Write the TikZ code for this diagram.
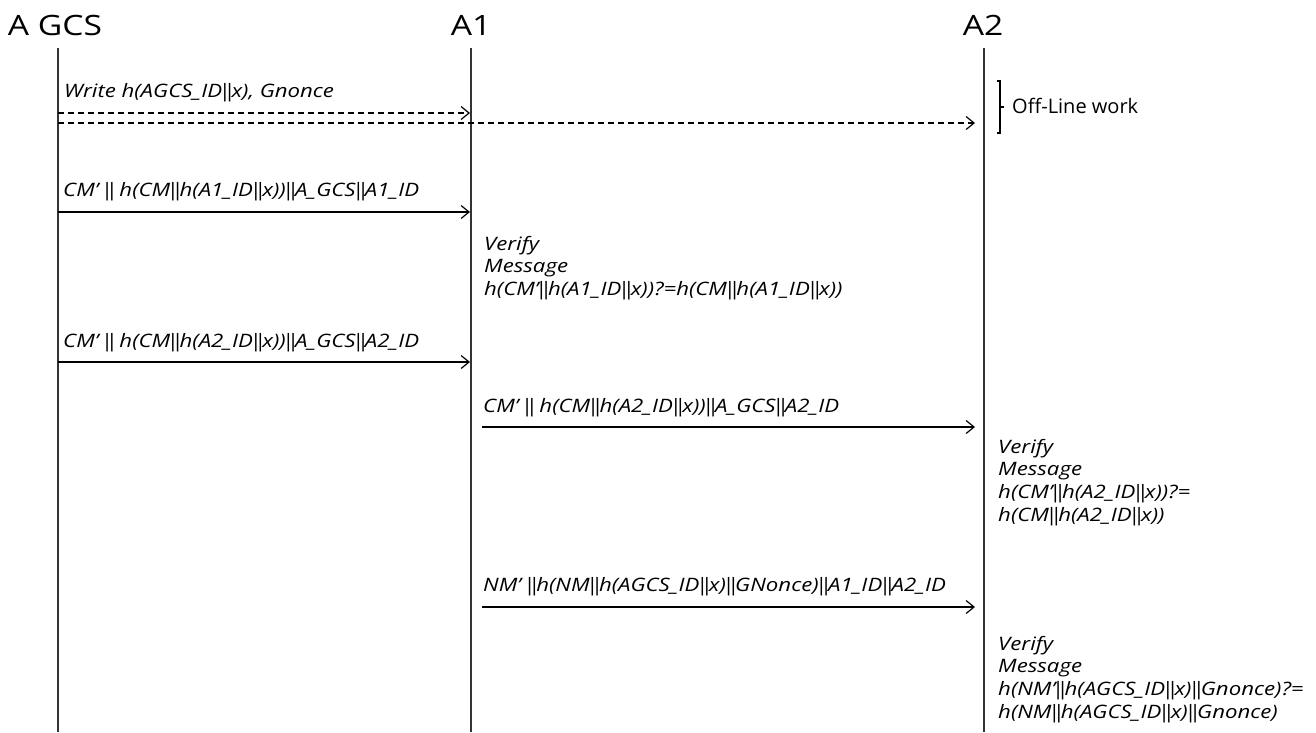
\documentclass[tikz,border=0pt]{standalone}
\usepackage{fontspec}
\setmainfont{Open Sans}
\newfontfamily\widef{Open Sans}[FakeStretch=1.2]
\usetikzlibrary{arrows.meta}
\newcommand{\pp}{\makebox[4.7pt]{|}}
\newcommand{\dd}{\pp\pp}
\begin{document}
\begin{tikzpicture}[x=1pt,y=-1pt,
  life/.style={line width=1.5pt, draw=black!80},
  msg/.style={line width=1.2pt, -{Straight Barb[length=8pt,width=13pt,line width=1.2pt]}},
  dmsg/.style={msg, dash pattern=on 6pt off 4pt},
  head/.style={font=\widef\fontsize{28}{30}\selectfont, anchor=base, inner sep=0},
  lbl/.style={font=\widef\fontsize{18.5}{22}\selectfont\itshape, anchor=base west, inner sep=0},
  vfy/.style={font=\widef\fontsize{18.5}{22.8}\selectfont\itshape, anchor=base west, inner sep=0, align=left, text width=420pt},
  note/.style={font=\fontsize{20}{24}\selectfont, anchor=base west, inner sep=0},
]
\useasboundingbox (0,0) rectangle (1316,732);
% headers
\node[head] (hG) at (55,35) {A GCS};
\node[head] (h1) at (471,35) {A1};
\node[head] (h2) at (983,35) {A2};
% lifelines
\coordinate (G0) at (58,48);  \coordinate (G1) at (58,732);
\coordinate (P0) at (471,48); \coordinate (P1) at (471,732);
\coordinate (Q0) at (984,48); \coordinate (Q1) at (984,732);
\draw[life] (G0) -- (G1);
\draw[life] (P0) -- (P1);
\draw[life] (Q0) -- (Q1);
% message 1 (dashed)
\node[lbl] (l1) at (64,97) {Write h(AGCS\_ID\dd x), Gnonce};
\coordinate (m1s) at (58,113); \coordinate (m1e) at (470,113);
\draw[dmsg] (m1s) -- (m1e);
\coordinate (m2s) at (58,123); \coordinate (m2e) at (975,123);
\draw[dmsg] (m2s) -- (m2e);
% off-line bracket
\coordinate (b1) at (997,81); \coordinate (b2) at (1000,81);
\coordinate (b3) at (1000,133); \coordinate (b4) at (997,133);
\coordinate (bt0) at (1000,107); \coordinate (bt1) at (1004,107);
\draw[line width=1.1pt] (b1) -- (b2) -- (b3) -- (b4);
\draw[line width=1.1pt] (bt0) -- (bt1);
\node[note] (off) at (1012,113) {Off-Line work};
% message 3
\node[lbl] (l3) at (63,196) {CM’ \dd\ h(CM\dd h(A1\_ID\dd x))\dd A\_GCS\dd A1\_ID};
\coordinate (m3s) at (58,212); \coordinate (m3e) at (470,212);
\draw[msg] (m3s) -- (m3e);
\node[vfy] (v1) at (484,250) {Verify\\Message\\h(CM’\dd h(A1\_ID\dd x))?=h(CM\dd h(A1\_ID\dd x))};
% message 4
\node[lbl] (l4) at (63,347) {CM’ \dd\ h(CM\dd h(A2\_ID\dd x))\dd A\_GCS\dd A2\_ID};
\coordinate (m4s) at (58,362); \coordinate (m4e) at (470,362);
\draw[msg] (m4s) -- (m4e);
% message 5
\node[lbl] (l5) at (483,412) {CM’ \dd\ h(CM\dd h(A2\_ID\dd x))\dd A\_GCS\dd A2\_ID};
\coordinate (m5s) at (482,427); \coordinate (m5e) at (975,427);
\draw[msg] (m5s) -- (m5e);
\node[vfy] (v2) at (998,453) {Verify\\Message\\h(CM’\dd h(A2\_ID\dd x))?=\\h(CM\dd h(A2\_ID\dd x))};
% message 6
\node[lbl] (l6) at (483,591) {NM’ \dd h(NM\dd h(AGCS\_ID\dd x)\dd GNonce)\dd A1\_ID\dd A2\_ID};
\coordinate (m6s) at (482,607); \coordinate (m6e) at (975,607);
\draw[msg] (m6s) -- (m6e);
\node[vfy] (v3) at (998,650) {Verify\\Message\\h(NM’\dd h(AGCS\_ID\dd x)\dd Gnonce)?=\\h(NM\dd h(AGCS\_ID\dd x)\dd Gnonce)};
\end{tikzpicture}
\end{document}
